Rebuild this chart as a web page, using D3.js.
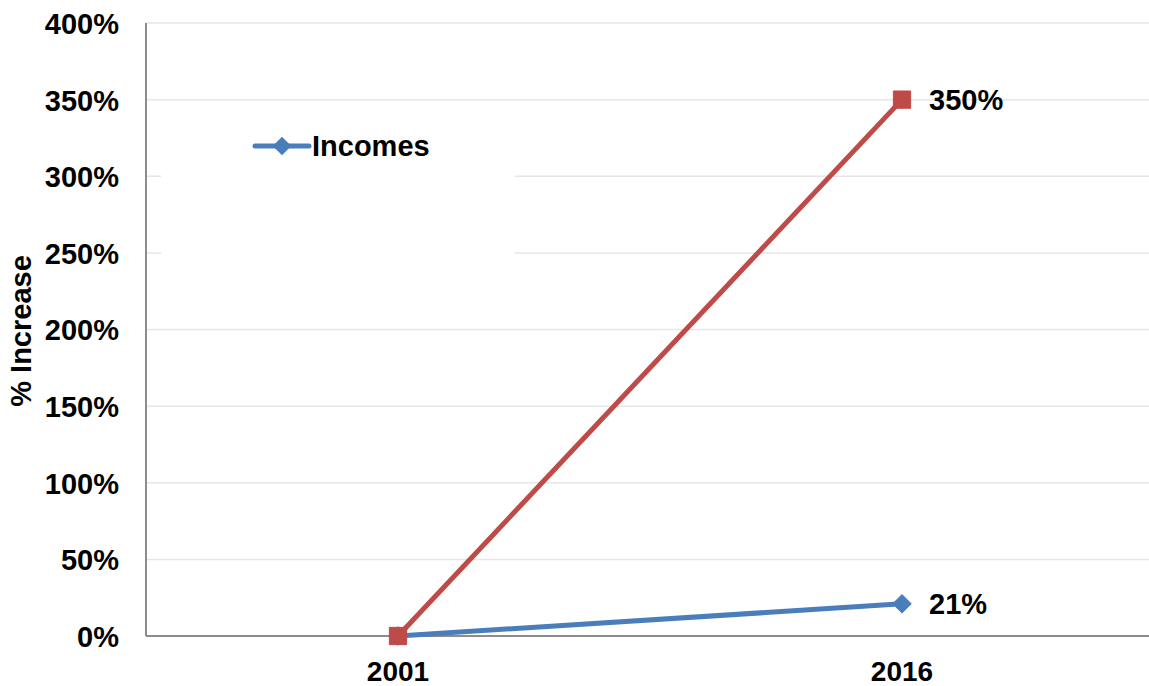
<!DOCTYPE html>
<html>
<head>
<meta charset="utf-8">
<script src="https://cdn.jsdelivr.net/npm/d3@7"></script>
<style>
  html, body { margin: 0; padding: 0; background: #fff; }
  svg text { font-family: "Liberation Sans", Arial, sans-serif; font-weight: bold; fill: #000; }
</style>
</head>
<body>
<svg id="chart" width="1149" height="686"></svg>
<script>
// --- datos ---
const years = ["2001", "2016"];
const incomes = [0, 21];
const otherSeries = [0, 350];   // serie roja (su leyenda queda tapada)
const yTicks = [0, 50, 100, 150, 200, 250, 300, 350, 400];

const width = 1149, height = 686;
const margin = { top: 23, right: -5, bottom: 50, left: 146 };

const svg = d3.select("#chart");

const x = d3.scaleBand()
    .domain(years)
    .range([margin.left, width - margin.right])
    .padding(0);

const y = d3.scaleLinear()
    .domain([0, 400])
    .range([height - margin.bottom, margin.top]);

const cx = d => x(d) + x.bandwidth() / 2;

// --- Gridlines ---
svg.append("g")
    .selectAll("line")
    .data(yTicks.filter(d => d > 0))
    .enter()
    .append("line")
    .attr("x1", margin.left)
    .attr("x2", width)
    .attr("y1", d => y(d))
    .attr("y2", d => y(d))
    .style("stroke", "#e6e6e6")
    .style("stroke-width", 1.5);

// caja blanca de la leyenda (tapa las líneas de la cuadrícula)
svg.append("rect")
    .attr("x", 161).attr("y", 112)
    .attr("width", 354).attr("height", 148)
    .style("fill", "#fff");

// --- Ejes ---
svg.append("line")
    .attr("x1", margin.left).attr("x2", margin.left)
    .attr("y1", y(400)).attr("y2", y(0))
    .style("stroke", "#8c8c8c").style("stroke-width", 2);

svg.append("line")
    .attr("x1", margin.left).attr("x2", width)
    .attr("y1", y(0)).attr("y2", y(0))
    .style("stroke", "#8c8c8c").style("stroke-width", 2);

const yAxis = d3.axisLeft(y)
    .tickValues(yTicks)
    .tickSize(0)
    .tickPadding(27)
    .tickFormat(d => d + "%");

svg.append("g")
    .attr("transform", `translate(${margin.left},0)`)
    .call(yAxis)
    .call(g => g.select(".domain").remove())
    .selectAll("text")
    .style("font-size", "29px")
    .style("font-family", "'Liberation Sans', Arial, sans-serif")
    .attr("dy", "0.36em");

const xAxis = d3.axisBottom(x).tickSize(0).tickPadding(25);

svg.append("g")
    .attr("transform", `translate(0,${y(0)})`)
    .call(xAxis)
    .call(g => g.select(".domain").remove())
    .selectAll("text")
    .style("font-size", "28px")
    .style("font-family", "'Liberation Sans', Arial, sans-serif");

// título eje Y
svg.append("text")
    .attr("transform", "translate(31,331) rotate(-90)")
    .attr("text-anchor", "middle")
    .style("font-size", "29px")
    .text("% Increase");

// --- Líneas ---
const line = d3.line()
    .x((d, i) => cx(years[i]))
    .y(d => y(d));

const blue = "#4a7ebb", red = "#be4b48";

svg.append("path")
    .datum(incomes)
    .attr("d", line)
    .style("fill", "none")
    .style("stroke", blue)
    .style("stroke-width", 5);

svg.append("path")
    .datum(otherSeries)
    .attr("d", line)
    .style("fill", "none")
    .style("stroke", red)
    .style("stroke-width", 5);

const diamond = d3.symbol().type(d3.symbolDiamond2).size(220);
const square = d3.symbol().type(d3.symbolSquare2).size(380);

svg.selectAll(".incPt")
    .data(incomes)
    .enter()
    .append("path")
    .attr("d", diamond)
    .attr("transform", (d, i) => `translate(${cx(years[i])},${y(d)})`)
    .style("fill", blue)
    .style("stroke", blue);

svg.selectAll(".othPt")
    .data(otherSeries)
    .enter()
    .append("path")
    .attr("d", square)
    .attr("transform", (d, i) => `translate(${cx(years[i])},${y(d)})`)
    .style("fill", red)
    .style("stroke", red);

// etiquetas del último punto
[[incomes, "21%"], [otherSeries, "350%"]].forEach(([s, lbl]) => {
    svg.append("text")
        .attr("x", cx(years[1]) + 27)
        .attr("y", y(s[1]))
        .attr("dy", "0.36em")
        .style("font-size", "29px")
        .text(lbl);
});

// --- Leyenda ---
const lg = svg.append("g").attr("transform", "translate(255,146)");
lg.append("line")
    .attr("x1", 0).attr("x2", 54)
    .style("stroke", blue).style("stroke-width", 5).style("stroke-linecap", "round");
lg.append("path")
    .attr("d", diamond)
    .attr("transform", "translate(27,0)")
    .style("fill", blue);
lg.append("text")
    .attr("x", 57)
    .attr("dy", "0.36em")
    .style("font-size", "29px")
    .text("Incomes");
</script>
</body>
</html>
